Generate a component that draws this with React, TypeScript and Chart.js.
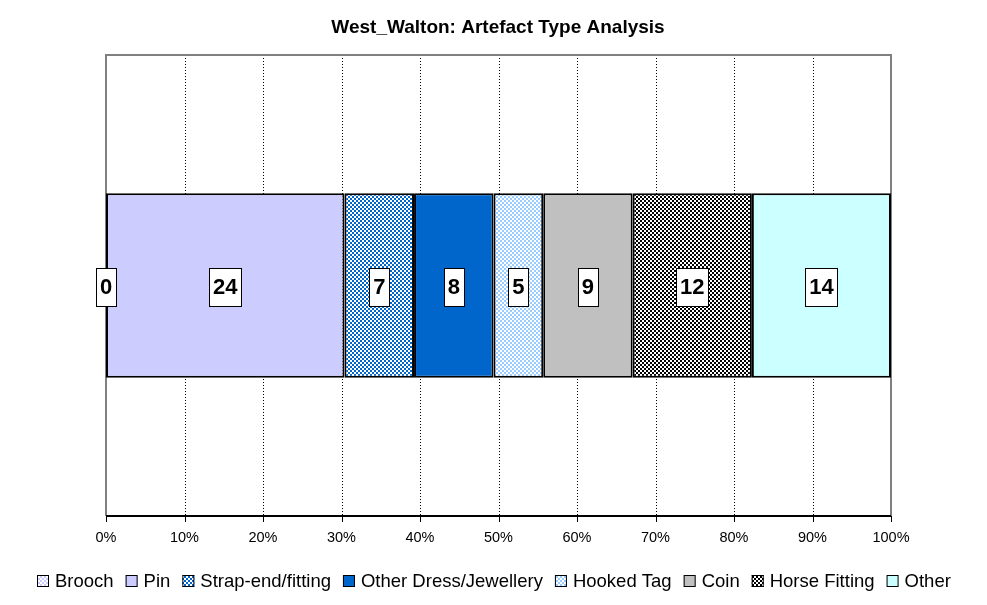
import React, { useEffect, useRef } from 'react';
import { Chart, registerables } from 'chart.js';
Chart.register(...registerables);

const chartTitle = 'West_Walton: Artefact Type Analysis';
const categories = ['West_Walton'];
const seriesNames = ['Brooch', 'Pin', 'Strap-end/fitting', 'Other Dress/Jewellery', 'Hooked Tag', 'Coin', 'Horse Fitting', 'Other'];
const seriesValues = [0, 24, 7, 8, 5, 9, 12, 14];
const tickLabels = ['0%', '10%', '20%', '30%', '40%', '50%', '60%', '70%', '80%', '90%', '100%'];

function makePattern(bg: string, fg: string, cells: number[][], size: number) {
  const c = document.createElement('canvas');
  c.width = size;
  c.height = size;
  const g = c.getContext('2d')!;
  g.fillStyle = bg;
  g.fillRect(0, 0, size, size);
  g.fillStyle = fg;
  cells.forEach(([x, y, w, h]) => g.fillRect(x, y, w, h));
  const ctx = document.createElement('canvas').getContext('2d')!;
  return ctx.createPattern(c, 'repeat') as CanvasPattern;
}

const checkCells = [[0, 0, 2, 2], [2, 2, 2, 2]];

function fills(): (string | CanvasPattern)[] {
  return [
    makePattern('#FFFFFF', '#CCCCFF', checkCells, 4),
    '#CCCCFF',
    makePattern('#FFFFFF', '#0066CC', checkCells, 4),
    '#0066CC',
    makePattern('#FFFFFF', '#99CCFF', checkCells, 4),
    '#C0C0C0',
    makePattern('#FFFFFF', '#000000', checkCells, 4),
    '#CCFFFF',
  ];
}

const PLOT_BORDER = '#808080';
const FONT = 'Arial, "Liberation Sans", sans-serif';

const framePlugin = {
  id: 'frame',
  beforeDatasetsDraw(chart: any) {
    const { ctx, chartArea: a, scales } = chart;
    const x = scales.x;
    ctx.save();
    ctx.strokeStyle = '#000';
    ctx.lineWidth = 1;
    ctx.setLineDash([1, 2]);
    for (let i = 1; i < tickLabels.length - 1; i++) {
      const px = Math.round(x.getPixelForValue(i * 10)) + 0.5;
      ctx.beginPath();
      ctx.moveTo(px, a.top);
      ctx.lineTo(px, a.bottom);
      ctx.stroke();
    }
    ctx.setLineDash([]);
    ctx.strokeStyle = PLOT_BORDER;
    ctx.lineWidth = 2;
    ctx.beginPath();
    ctx.moveTo(a.left, a.bottom);
    ctx.lineTo(a.left, a.top);
    ctx.lineTo(a.right, a.top);
    ctx.lineTo(a.right, a.bottom);
    ctx.stroke();
    ctx.restore();
  },
  afterDatasetsDraw(chart: any) {
    const { ctx, chartArea: a, scales } = chart;
    const x = scales.x;
    ctx.save();
    ctx.strokeStyle = '#000';
    ctx.lineWidth = 2;
    ctx.beginPath();
    ctx.moveTo(a.left, a.bottom);
    ctx.lineTo(a.right, a.bottom);
    ctx.stroke();
    ctx.lineWidth = 1;
    for (let i = 0; i < tickLabels.length; i++) {
      const px = Math.round(x.getPixelForValue(i * 10)) + 0.5;
      ctx.beginPath();
      ctx.moveTo(px, a.bottom);
      ctx.lineTo(px, a.bottom + 6);
      ctx.stroke();
    }
    ctx.font = 'bold 22px ' + FONT;
    ctx.textAlign = 'center';
    ctx.textBaseline = 'middle';
    chart.data.datasets.forEach((ds: any, di: number) => {
      const meta = chart.getDatasetMeta(di);
      meta.data.forEach((el: any, i: number) => {
        const label = String(ds.rawValues[i]);
        const cx = (el.x + el.base) / 2;
        const cy = el.y + 1;
        const w = Math.round(ctx.measureText(label).width + 8);
        const h = 38;
        const bx = Math.round(cx - w / 2) + 0.5;
        const by = Math.round(cy - h / 2) + 0.5;
        ctx.fillStyle = '#fff';
        ctx.fillRect(bx, by, w, h);
        ctx.strokeStyle = '#000';
        ctx.lineWidth = 1;
        ctx.strokeRect(bx, by, w, h);
        ctx.fillStyle = '#000';
        ctx.fillText(label, cx, cy + 1);
      });
    });
    ctx.restore();
  },
  afterDraw(chart: any) {
    const { ctx } = chart;
    ctx.save();
    ctx.font = 'bold 19px ' + FONT;
    ctx.fillStyle = '#000';
    ctx.textAlign = 'center';
    ctx.textBaseline = 'middle';
    ctx.fillText(chartTitle, 498, 28);
    ctx.font = '18.5px ' + FONT;
    const box = 12, gapBox = 6, gapItem = 12;
    const items = chart.data.datasets.map((ds: any) => ({ label: ds.label, fill: ds.backgroundColor, w: box + gapBox + ctx.measureText(ds.label).width }));
    const total = items.reduce((s: number, it: any) => s + it.w, 0) + gapItem * (items.length - 1);
    let lx = Math.round(494 - total / 2);
    const ly = 581;
    ctx.textAlign = 'left';
    items.forEach((it: any) => {
      ctx.fillStyle = it.fill;
      ctx.fillRect(lx, ly - 6, box, box);
      ctx.strokeStyle = '#000';
      ctx.lineWidth = 1;
      ctx.strokeRect(lx + 0.5, ly - 5.5, box - 1, box - 1);
      ctx.fillStyle = '#000';
      ctx.fillText(it.label, lx + box + gapBox, ly + 1);
      lx += it.w + gapItem;
    });
    ctx.restore();
  },
};

export default function App() {
  const ref = useRef<HTMLCanvasElement>(null);
  useEffect(() => {
    const total = seriesValues.reduce((s, v) => s + v, 0);
    const bg = fills();
    const chart = new Chart(ref.current!, {
      type: 'bar',
      data: {
        labels: categories,
        datasets: seriesNames.map((name, i) => ({
          label: name,
          data: [(seriesValues[i] / total) * 100],
          rawValues: [seriesValues[i]],
          backgroundColor: bg[i],
          borderColor: '#000',
          borderWidth: seriesValues[i] > 0 ? 2 : 0,
          borderSkipped: false,
          barPercentage: 0.4,
          categoryPercentage: 1,
        })) as any,
      },
      options: {
        indexAxis: 'y',
        animation: false,
        responsive: false,
        events: [],
        layout: { padding: { top: 55, left: 106, right: 96, bottom: 59 } },
        plugins: { legend: { display: false }, title: { display: false }, tooltip: { enabled: false } },
        scales: {
          x: {
            stacked: true,
            min: 0,
            max: 100,
            grid: { display: false, drawTicks: false },
            border: { display: false },
            afterFit: (s: any) => { s.height = 30; },
            ticks: {
              stepSize: 10,
              padding: 13,
              color: '#000',
              font: { size: 14.5, family: FONT },
              callback: (_v: any, i: number) => tickLabels[i],
            },
          },
          y: { stacked: true, display: false },
        },
      },
      plugins: [framePlugin],
    });
    return () => chart.destroy();
  }, []);
  return (
    <div style={{ position: 'fixed', left: 0, top: 0, width: 987, height: 605, background: '#fff' }}>
      <canvas ref={ref} width={987} height={605} style={{ width: 987, height: 605 }} />
    </div>
  );
}
